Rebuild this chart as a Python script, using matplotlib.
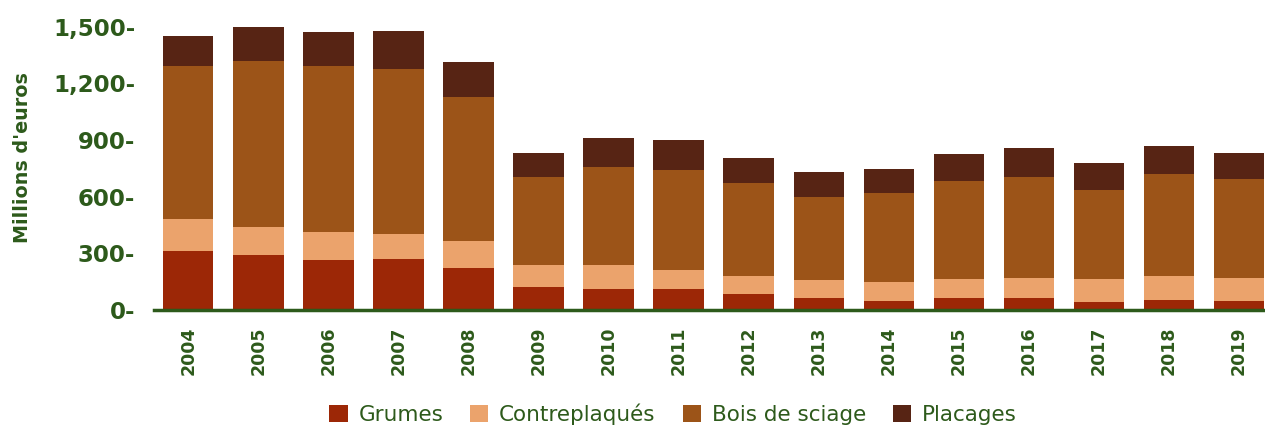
import matplotlib.pyplot as plt
import numpy as np

# Données (millions d'euros)
annees = ["2004", "2005", "2006", "2007", "2008", "2009", "2010", "2011",
          "2012", "2013", "2014", "2015", "2016", "2017", "2018", "2019"]
grumes = [313, 292, 265, 270, 223, 122, 111, 111, 85, 64, 48, 64, 64, 42, 53, 48]
contreplaques = [169, 148, 148, 133, 143, 117, 128, 101, 95, 95, 100, 100, 106, 122, 127, 122]
bois_sciage = [811, 880, 880, 874, 763, 466, 519, 530, 493, 440, 472, 520, 535, 472, 541, 524]
placages = [159, 180, 180, 202, 185, 127, 154, 159, 133, 132, 127, 143, 154, 143, 148, 138]

vert = "#2d5a1b"
couleurs = ["#9c2706", "#eba36c", "#9c5418", "#572414"]
noms = ["Grumes", "Contreplaqués", "Bois de sciage", "Placages"]
series = [grumes, contreplaques, bois_sciage, placages]

fig = plt.figure(figsize=(12.65, 4.28), dpi=100)
ax = fig.add_axes([0.1217, 0.2757, 0.8783, 0.688])

x = np.arange(len(annees))
bas = np.zeros(len(annees))
for vals, c, nom in zip(series, couleurs, noms):
    ax.bar(x, vals, bottom=bas, width=0.72, color=c, label=nom, zorder=2)
    bas += np.array(vals)

ax.set_xlim(-0.49, 15.37)
ax.set_ylim(0, 1560)

yt = [0, 300, 600, 900, 1200, 1500]
ax.set_yticks(yt)
ax.set_yticklabels([f"{v:,}-" for v in yt], fontsize=16.5, fontweight="bold", color=vert)
ax.tick_params(axis="y", length=0, pad=13.5)

ax.set_xticks(x)
ax.set_xticklabels(annees, rotation=90, fontsize=12.5, fontweight="bold", color=vert)
ax.tick_params(axis="x", length=0, pad=12)

for s in ["top", "right", "left"]:
    ax.spines[s].set_visible(False)
ax.spines["bottom"].set_color(vert)
ax.spines["bottom"].set_linewidth(2.5)
ax.spines["bottom"].set_zorder(3)

fig.text(0.018, 0.632, "Millions d'euros", rotation=90, ha="center", va="center",
         fontsize=13.8, fontweight="bold", color=vert)

# légende en bas (légèrement remontée pour ne pas couper le texte)
leg = fig.legend(loc="center", bbox_to_anchor=(0.532, 0.032), ncol=4, frameon=False,
                 fontsize=15.5, handlelength=0.85, handleheight=0.85,
                 handletextpad=0.5, columnspacing=1.25)
for t in leg.get_texts():
    t.set_color(vert)

fig.savefig("out.png", dpi=100)
